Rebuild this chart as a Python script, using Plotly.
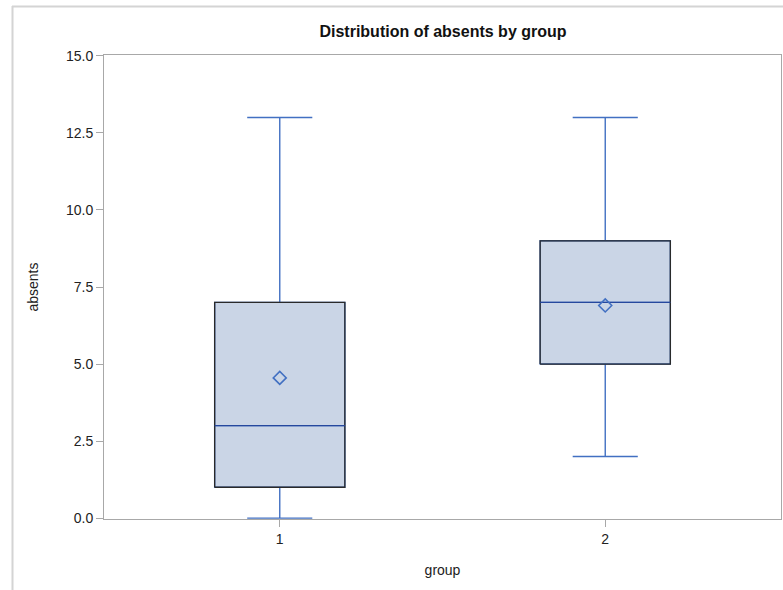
import plotly.graph_objects as go

groups = [1, 2]
group_labels = ["1", "2"]
mins = [0, 2]
q1s = [1, 5]
medians = [3, 7]
q3s = [7, 9]
maxs = [13, 13]
means = [4.55, 6.9]
y_ticks = [0, 2.5, 5, 7.5, 10, 12.5, 15]

FILL = "#CAD5E6"
WHISKER = "#4270C2"
MEDIAN = "#26489E"
BOX_W = 0.40
FONT = "Liberation Sans, Arial, sans-serif"

fig = go.Figure()

fig.add_trace(go.Box(
    x=groups, q1=q1s, median=medians, q3=q3s,
    lowerfence=mins, upperfence=maxs,
    width=BOX_W, whiskerwidth=0.5,
    fillcolor=FILL, line=dict(color=WHISKER, width=1.4),
    boxpoints=False, showlegend=False, hoverinfo="skip",
))

# black box outlines and darker median lines, built from the data
for g, a, m, b in zip(groups, q1s, medians, q3s):
    h = BOX_W / 2
    fig.add_trace(go.Scatter(
        x=[g - h, g + h, g + h, g - h, g - h], y=[a, a, b, b, a],
        mode="lines", line=dict(color="#2A2A2A", width=1.3),
        showlegend=False, hoverinfo="skip"))
    fig.add_trace(go.Scatter(
        x=[g - h, g + h], y=[m, m], mode="lines",
        line=dict(color=MEDIAN, width=1.4), showlegend=False, hoverinfo="skip"))

fig.add_trace(go.Scatter(
    x=groups, y=means, mode="markers",
    marker=dict(symbol="diamond-open", size=10, color=WHISKER, line=dict(width=1.6, color=WHISKER)),
    showlegend=False, hoverinfo="skip"))

# outer light border (top and left)
L, R, T, B = 104, 781, 55, 519
pw, ph = R - L, B - T
def px(x): return (x - L) / pw
def py(y): return (B - y) / ph
fig.add_shape(type="line", xref="paper", yref="paper", x0=px(12), x1=px(783), y0=py(6.5), y1=py(6.5),
              line=dict(color="#D4D4D4", width=2))
fig.add_shape(type="line", xref="paper", yref="paper", x0=px(12.5), x1=px(12.5), y0=py(6), y1=py(590),
              line=dict(color="#D4D4D4", width=2))

fig.update_layout(
    width=783, height=590,
    margin=dict(l=L, r=783 - R, t=T, b=590 - B),
    paper_bgcolor="white", plot_bgcolor="white",
    font=dict(family=FONT, size=14, color="#222222"),
    title=dict(text="<b>Distribution of absents by group</b>", x=px(443), xref="paper",
               xanchor="center", y=1 - 31 / 590, yanchor="middle",
               font=dict(size=16, color="#111111", family=FONT)),
    xaxis=dict(range=[0.46, 2.54], tickvals=groups, ticktext=group_labels,
               showgrid=False, zeroline=False, showline=True, mirror=True,
               linecolor="#A8A8A8", linewidth=1, ticks="outside", ticklen=7,
               tickcolor="#A8A8A8", title=dict(text="group", standoff=19, font=dict(size=14)),
               tickfont=dict(size=14, color="#222222")),
    yaxis=dict(range=[-0.03, 15.03], tickvals=y_ticks, tickformat=".1f",
               showgrid=False, zeroline=False, showline=True, mirror=True,
               linecolor="#A8A8A8", linewidth=1, ticks="outside", ticklen=7,
               tickcolor="#A8A8A8", title=dict(text="absents", standoff=24, font=dict(size=14)),
               tickfont=dict(size=14, color="#222222")),
)

fig.write_html("out.html", config={"displayModeBar": False},
               post_script="document.body.style.margin='0';document.body.style.overflow='hidden';")
